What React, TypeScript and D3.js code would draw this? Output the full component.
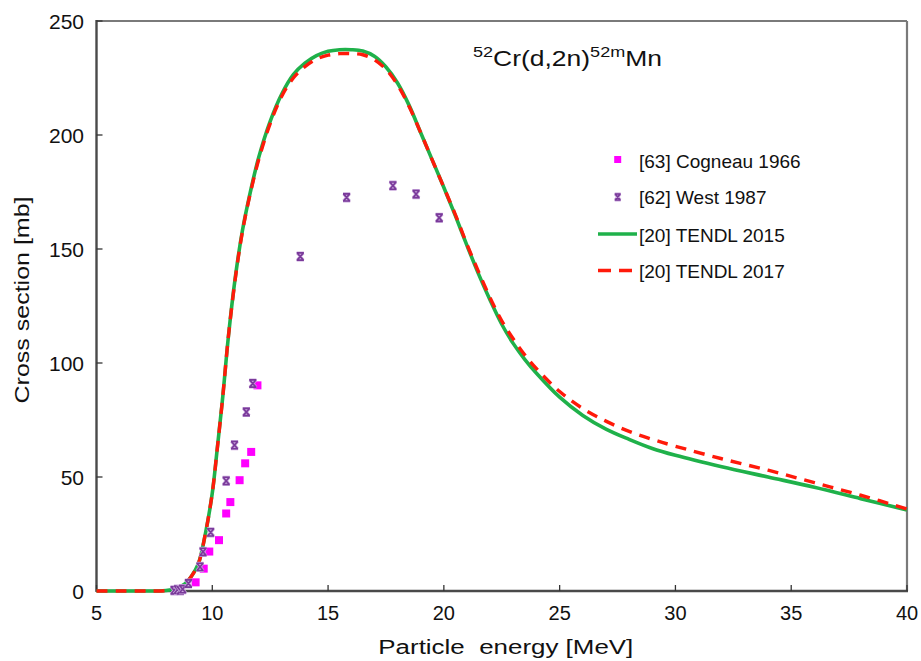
import React from "react";
import * as d3 from "d3";

// ---- Data ----
const tendl2015E = [5, 6, 7, 7.6, 8, 8.4, 8.8, 9.1, 9.4, 9.7, 10, 10.2, 10.45, 10.7, 11, 11.3, 11.6, 12, 12.5, 13, 13.5, 14, 14.5, 15, 15.5, 16, 16.5, 17, 17.5, 18, 18.5, 19, 19.5, 20, 20.5, 21, 21.5, 22, 22.5, 23, 23.5, 24, 25, 26, 27, 28, 29, 30, 32, 34, 36, 38, 40];
const tendl2015S = [0, 0, 0, 0, 0.2, 1, 3, 6.5, 12, 25, 43, 61, 85, 112, 138, 158, 173, 190, 206, 218, 226.5, 231.5, 234.8, 236.7, 237.4, 237.4, 236.8, 234.5, 229.8, 222.8, 213, 201, 189, 177, 164.5, 151.5, 139, 127.5, 117, 108.5, 101.5, 95.5, 85, 77, 71, 66.5, 62.5, 59.5, 54.5, 50, 45.5, 40.5, 35.5];

const tendl2017E = [5, 6, 7, 7.6, 8, 8.4, 8.8, 9.1, 9.4, 9.7, 10, 10.2, 10.45, 10.7, 11, 11.3, 11.6, 12, 12.5, 13, 13.5, 14, 14.5, 15, 15.5, 16, 16.5, 17, 17.5, 18, 18.5, 19, 19.5, 20, 20.5, 21, 21.5, 22, 22.5, 23, 23.5, 24, 25, 26, 27, 28, 29, 30, 32, 34, 36, 38, 40];
const tendl2017S = [0, 0, 0, 0, 0.2, 1, 3, 6.5, 12, 25, 43, 61, 85, 112, 137.5, 157.5, 172.5, 189, 205, 217, 225, 230, 233.3, 235, 235.7, 235.7, 235.2, 233, 228.8, 222, 212.5, 201, 189, 177, 165, 152, 140, 128.5, 118.5, 110.5, 103.5, 97.5, 87.5, 80, 74.5, 70, 66.5, 63.5, 58, 53, 47.5, 42, 36];

const cogneauE = [9.28, 9.63, 9.87, 10.29, 10.6, 10.78, 11.18, 11.42, 11.68, 11.95];
const cogneauS = [3.8, 9.8, 17.3, 22.3, 34, 39, 48.6, 56, 61, 90.2];

const westE = [8.35, 8.5, 8.62, 8.72, 8.97, 9.47, 9.6, 9.93, 10.6, 10.96, 11.47, 11.75, 13.8, 15.8, 17.8, 18.8, 19.8];
const westS = [0.3, 0.6, 0.3, 0.8, 3.3, 10.6, 17.2, 25.7, 48.3, 64, 78.5, 91, 146.7, 172.6, 177.8, 174.1, 163.7];

const xTicks = [5, 10, 15, 20, 25, 30, 35, 40];
const yTicks = [0, 50, 100, 150, 200, 250];

const legendLabels = ["[63] Cogneau 1966", "[62] West 1987", "[20] TENDL 2015", "[20] TENDL 2017"];

// ---- Layout ----
const W = 921;
const H = 661;
const left = 96.5;
const right = 907;
const top = 21;
const bottom = 591;

const FONT = "'Liberation Sans', Arial, Helvetica, sans-serif";
const GREEN = "#1fb14a";
const RED = "#ff1a0a";
const MAGENTA = "#ff00ff";
const PURPLE = "#7a3a9a";

function WestMark({ x, y, s = 4 }: { x: number; y: number; s?: number }) {
  const d = `M${x - s},${y - s}H${x + s}M${x - s},${y + s}H${x + s}M${x - s + 0.5},${y - s}L${x + s - 0.5},${y + s}M${x + s - 0.5},${y - s}L${x - s + 0.5},${y + s}`;
  return (
    <g>
      <path d={d} stroke="#c9a8dc" strokeWidth={3} fill="none" />
      <path d={d} stroke={PURPLE} strokeWidth={1.6} fill="none" />
    </g>
  );
}

export default function App() {
  const x = d3.scaleLinear().domain([5, 40]).range([left, right]);
  const y = d3.scaleLinear().domain([0, 250]).range([bottom, top]);

  const line = d3
    .line<[number, number]>()
    .x((d) => x(d[0]))
    .y((d) => y(d[1]))
    .curve(d3.curveCatmullRom.alpha(0.5));

  const g15 = line(tendl2015E.map((e, i) => [e, tendl2015S[i]] as [number, number])) || "";
  const g17 = line(tendl2017E.map((e, i) => [e, tendl2017S[i]] as [number, number])) || "";

  const legY = [159.5, 197, 234, 270.5];
  const legText = [167.8, 204.2, 241.6, 277.6];

  return (
    <svg
      width={W}
      height={H}
      viewBox={`0 0 ${W} ${H}`}
      style={{ position: "absolute", left: 0, top: 0, background: "#fff" }}
      fontFamily={FONT}
    >
      <rect x={0} y={0} width={W} height={H} fill="#fff" />

      {/* frame */}
      <line x1={left} x2={right} y1={top} y2={top} stroke="#7a7a7a" strokeWidth={1.8} />
      <line x1={right} x2={right} y1={top} y2={bottom} stroke="#7a7a7a" strokeWidth={2.2} />
      <line x1={left} x2={left} y1={top - 1} y2={bottom + 1} stroke="#4a4a4a" strokeWidth={2.4} />
      <line x1={left} x2={right + 1} y1={bottom} y2={bottom} stroke="#4a4a4a" strokeWidth={2.4} />

      {/* x ticks */}
      {xTicks.map((t) => (
        <g key={"x" + t}>
          <line x1={x(t)} x2={x(t)} y1={bottom} y2={bottom - 6} stroke="#333" strokeWidth={1.3} />
          <text x={x(t)} y={619.5} fontSize={20} textAnchor="middle" fill="#111">
            {t}
          </text>
        </g>
      ))}

      {/* y ticks */}
      {yTicks.map((t) => (
        <g key={"y" + t}>
          <line x1={left} x2={left + 6} y1={y(t)} y2={y(t)} stroke="#333" strokeWidth={1.3} />
          <text x={84} y={y(t) + 7.5} fontSize={21} textAnchor="end" fill="#111">
            {t}
          </text>
        </g>
      ))}

      {/* axis titles */}
      <text
        x={505.8}
        y={654}
        fontSize={20}
        textAnchor="middle"
        textLength={255}
        lengthAdjust="spacingAndGlyphs"
        fill="#111"
        style={{ whiteSpace: "pre" }}
      >
        {"Particle  energy [MeV]"}
      </text>
      <text
        transform="translate(28.5,300) rotate(-90)"
        fontSize={21}
        textAnchor="middle"
        textLength={207}
        lengthAdjust="spacingAndGlyphs"
        fill="#111"
      >
        Cross section [mb]
      </text>

      {/* chart title */}
      <text x={473} y={66} fontSize={22} textLength={189} lengthAdjust="spacingAndGlyphs" fill="#111">
        <tspan fontSize={15} dy={-9}>52</tspan>
        <tspan dy={9}>Cr(d,2n)</tspan>
        <tspan fontSize={15} dy={-9}>52m</tspan>
        <tspan dy={9}>Mn</tspan>
      </text>

      {/* curves */}
      <path d={g15} fill="none" stroke={GREEN} strokeWidth={3.6} strokeLinejoin="round" />
      <path d={g17} fill="none" stroke={RED} strokeWidth={3.4} strokeDasharray="11,8" />

      {/* data points */}
      {cogneauE.map((e, i) => (
        <rect key={"c" + i} x={x(e) - 4} y={y(cogneauS[i]) - 4} width={8} height={8} fill={MAGENTA} />
      ))}
      {westE.map((e, i) => (
        <WestMark key={"w" + i} x={x(e)} y={y(westS[i])} s={3.6} />
      ))}

      {/* legend */}
      <rect x={617.7 - 3.5} y={legY[0] - 3.5} width={7} height={7} fill={MAGENTA} />
      <WestMark x={617.7} y={legY[1]} s={3} />
      <line x1={598} x2={637} y1={legY[2]} y2={legY[2]} stroke={GREEN} strokeWidth={3.6} />
      <line x1={598} x2={637} y1={legY[3]} y2={legY[3]} stroke={RED} strokeWidth={3.6} strokeDasharray="13,8" />
      {legendLabels.map((l, i) => (
        <text key={l} x={639} y={legText[i]} fontSize={19} fill="#111">
          {l}
        </text>
      ))}
    </svg>
  );
}
